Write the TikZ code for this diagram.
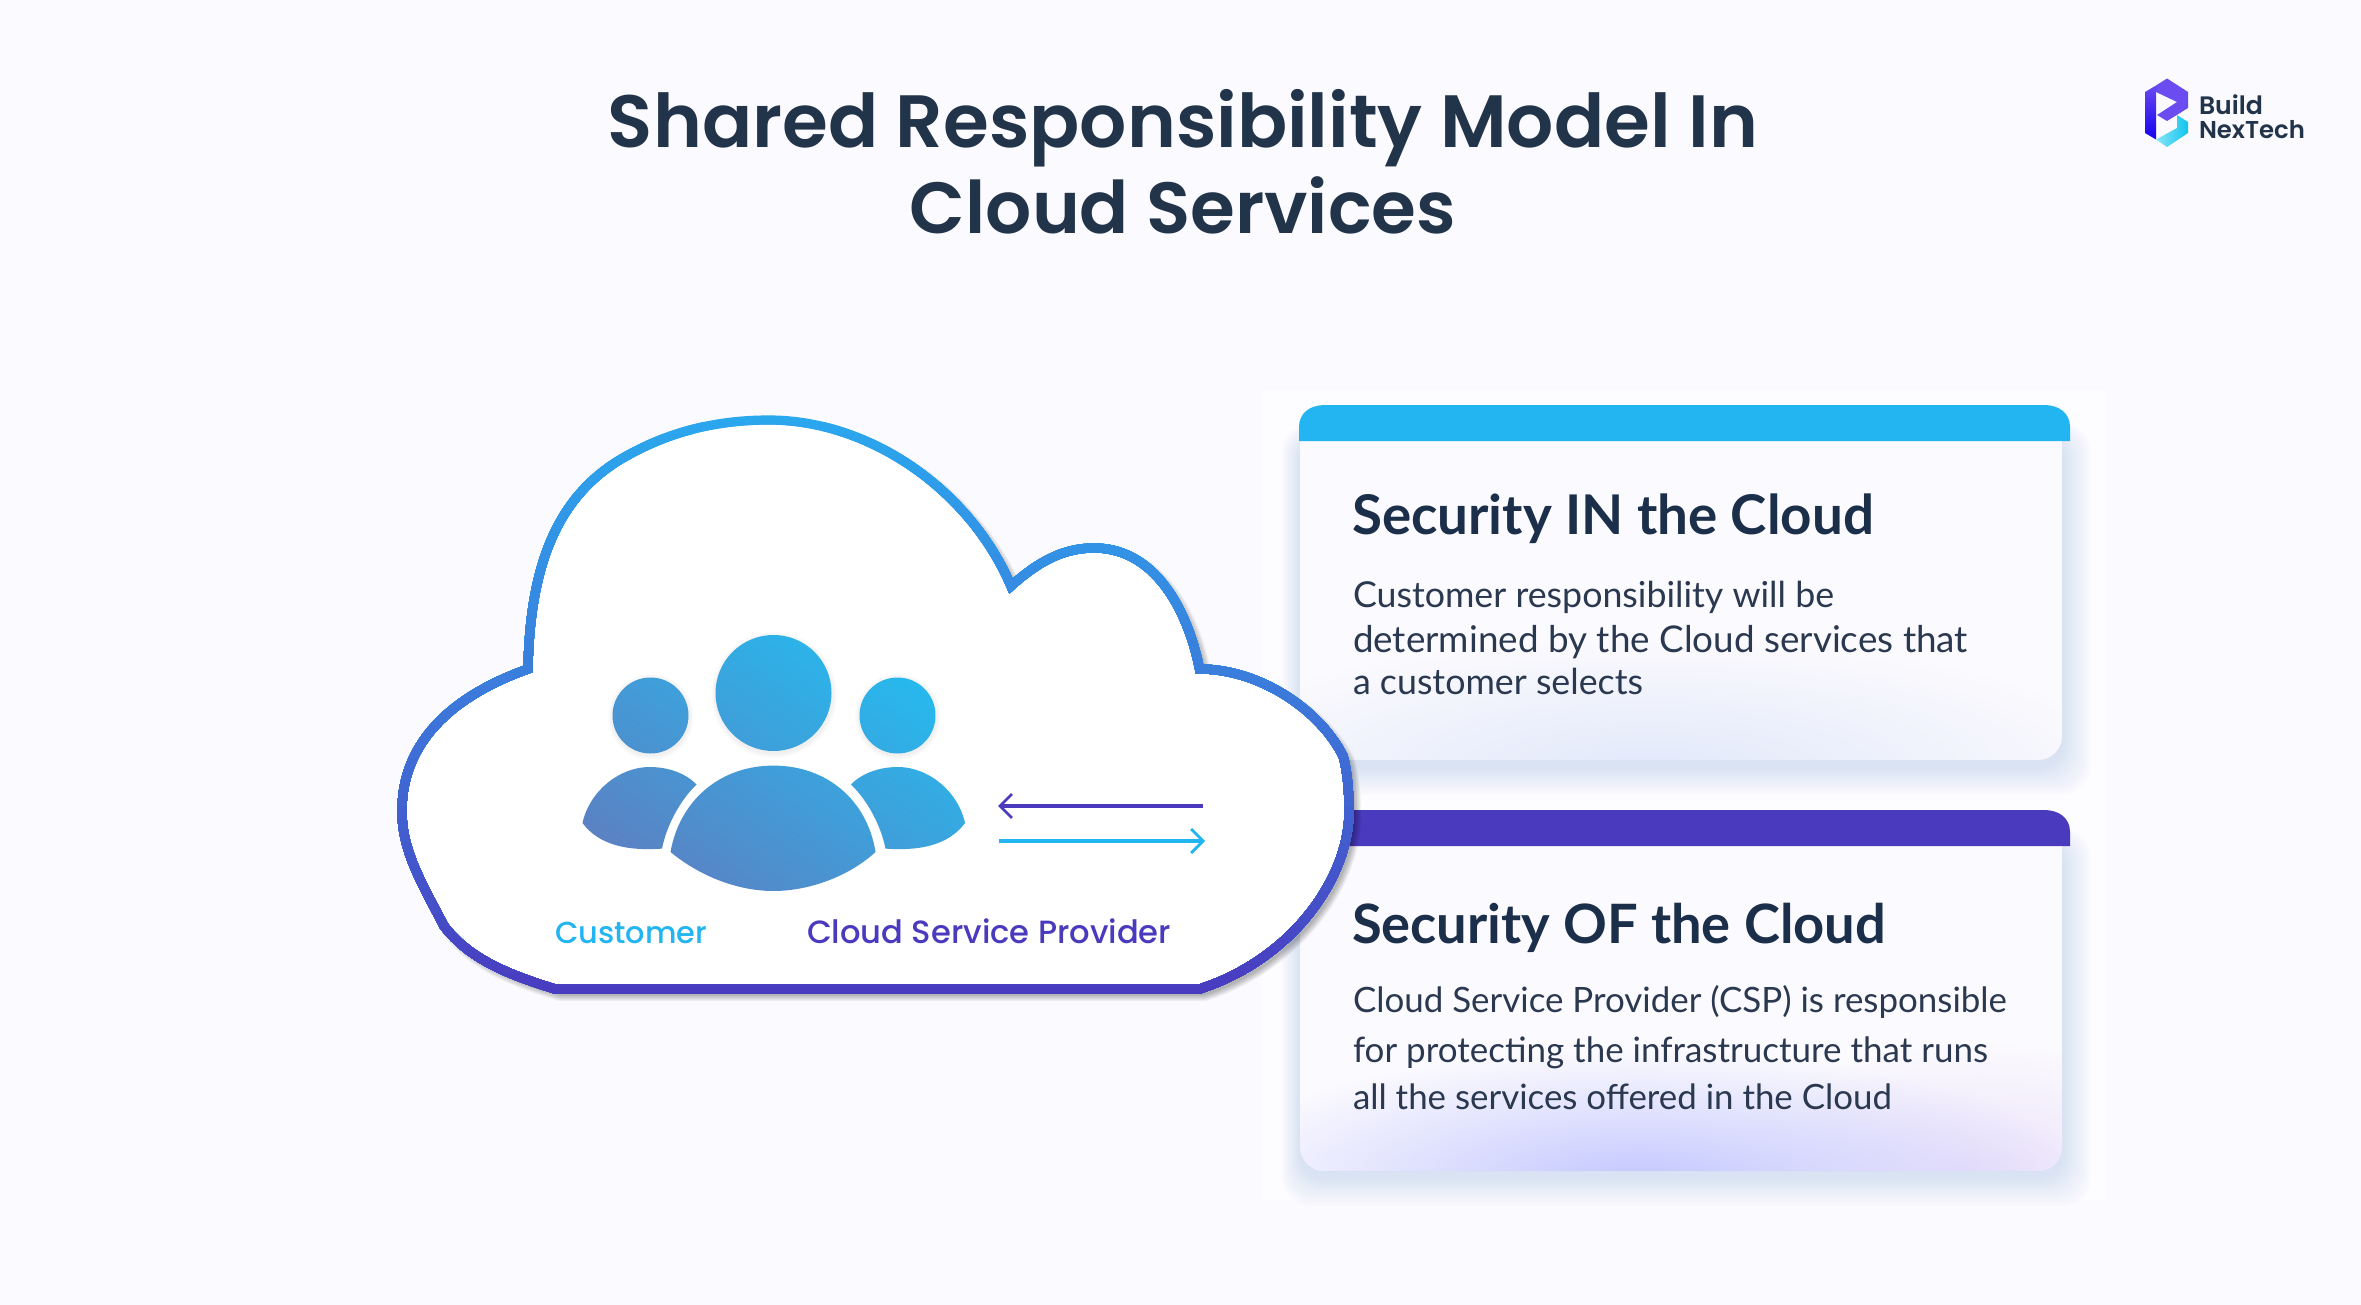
\documentclass[tikz,border=0pt]{standalone}
\usepackage{fontspec}
\usepackage{graphicx}
\usetikzlibrary{arrows.meta,fadings}
\setmainfont{Lato}
\newfontfamily\pop{Poppins}[UprightFont=* Medium,BoldFont=* SemiBold]
\definecolor{bgc}{HTML}{FBFAFE}
\definecolor{panelc}{HTML}{FDFDFF}
\definecolor{titlec}{HTML}{22344A}
\definecolor{headc}{HTML}{1B2F4B}
\definecolor{bodyc}{HTML}{2A3850}
\definecolor{skyc}{HTML}{22B5F2}
\definecolor{violc}{HTML}{4A3ABD}
\definecolor{cloudtop}{HTML}{2AA8EE}
\definecolor{cloudmid}{HTML}{3C78DA}
\definecolor{cloudbot}{HTML}{4A3CC0}
\definecolor{iconlow}{HTML}{6478BC}
\definecolor{iconhigh}{HTML}{1CC4F6}
\definecolor{logoa}{HTML}{6A48F0}
\definecolor{logob}{HTML}{1400F0}
\definecolor{logoc}{HTML}{6A4CF0}
\definecolor{logod}{HTML}{8AE6F6}
\definecolor{logoe}{HTML}{10C4F0}
\definecolor{glowa}{HTML}{E2E9FB}
\definecolor{glowb}{HTML}{C4C8FF}
\definecolor{glowc}{HTML}{ECE2FB}
\definecolor{shadc}{HTML}{5078D0}
\tikzfading[name=softglow,inner color=transparent!0,outer color=transparent!100]
\newcommand{\fitw}[2]{\resizebox{0.5\dimexpr#1pt\relax}{!}{#2}}
\tikzset{
  txt/.style={anchor=base west,inner sep=0pt,outer sep=0pt},
  main title/.style={inner sep=0pt,outer sep=0pt,anchor=base,text=titlec,font=\pop\bfseries\fontsize{40}{48}\selectfont},
  card head/.style={txt,text=headc,font=\bfseries\fontsize{27}{30}\selectfont},
  card body/.style={txt,text=bodyc,font=\fontsize{20}{24}\selectfont},
  cloud label/.style={txt,font=\pop\fontsize{17}{20}\selectfont},
  logo text/.style={txt,text=titlec,font=\pop\bfseries\fontsize{13}{15}\selectfont},
  arrow line/.style={line width=1.6pt,-{Straight Barb[length=6pt,width=12pt,line width=1.4pt]}},
}
\def\cloudpath{(528,669) .. controls (530,560) and (560,490) .. (632,453)
 .. controls (675,430) and (720,420) .. (769,420)
 .. controls (870,420) and (970,490) .. (1011,586)
 .. controls (1040,560) and (1065,548) .. (1094,548)
 .. controls (1160,548) and (1190,620) .. (1199.5,669)
 .. controls (1260,669) and (1320,710) .. (1343,756)
 .. controls (1347,770) and (1349,790) .. (1349,811)
 .. controls (1349,880) and (1290,960) .. (1199.5,989)
 -- (555,989)
 .. controls (510,975) and (470,960) .. (444,926)
 .. controls (420,880) and (402,850) .. (402,811)
 .. controls (402,740) and (455,695) .. (528,669) -- cycle}
\begin{document}
\begin{tikzpicture}[x=0.5pt,y=-0.5pt]
\useasboundingbox (0,0) rectangle (2361,1305);
\fill[bgc] (0,0) rectangle (2361,1305);
\fill[panelc] (1262,390) rectangle (2106,1200);
% card shadows
\foreach \yy/\yb in {430/760,835/1171}{
  \foreach \g in {1,...,12}{
    \fill[shadc,opacity=.016,rounded corners=14pt]
      (1300-\g*1.5,\yy+6-\g) rectangle (2062+\g*2.4,\yb+6+\g*2.4);
  }
}
% card glows
\begin{scope}
  \clip[rounded corners=12pt] (1300,420) rectangle (2062,760);
  \fill[bgc] (1300,420) rectangle (2062,760);
  \fill[glowa,path fading=softglow] (1650,770) ellipse (480 and 130);
\end{scope}
\begin{scope}
  \clip[rounded corners=12pt] (1300,825) rectangle (2062,1171);
  \fill[bgc] (1300,825) rectangle (2062,1171);
  \fill[glowc,path fading=softglow] (1980,1175) ellipse (260 and 130);
  \fill[glowb,path fading=softglow] (1640,1180) ellipse (440 and 130);
\end{scope}
% card headers
\fill[skyc] (1299,441) -- (1299,427) .. controls (1299,413) and (1310,405) .. (1325,405) -- (2044,405)
  .. controls (2059,405) and (2070,413) .. (2070,427) -- (2070,441) -- cycle;
\fill[violc] (1299,846) -- (1299,832) .. controls (1299,818) and (1310,810) .. (1325,810) -- (2044,810)
  .. controls (2059,810) and (2070,818) .. (2070,832) -- (2070,846) -- cycle;
% title
\node[main title] (title1) at (1183,148) {\fitw{1150}{Shared Responsibility Model In}};
\node[main title] (title2) at (1183,234) {\fitw{546}{Cloud Services}};
% card text
\node[card head] (c1h) at (1352,534) {\fitw{522}{Security IN the Cloud}};
\node[card body] (c1a) at (1353,607.6) {\fitw{481}{Customer responsibility will be}};
\node[card body] (c1b) at (1353,652) {\fitw{615}{determined by the Cloud services that}};
\node[card body] (c1c) at (1353,694) {\fitw{290}{a customer selects}};
\node[card head] (c2h) at (1352,943.5) {\fitw{534}{Security OF the Cloud}};
\node[card body] (c2a) at (1353,1012.5) {\fitw{654}{Cloud Service Provider (CSP) is responsible}};
\node[card body] (c2b) at (1353,1062) {\fitw{635}{for protecting the infrastructure that runs}};
\node[card body] (c2c) at (1353,1109) {\fitw{539}{all the services offered in the Cloud}};
% cloud shadow
\foreach \g in {1,...,8}{
  \draw[black,opacity=.04,line width={\g*0.9pt},line join=round] [shift={(5,5)}] \cloudpath;
}
\fill[white] \cloudpath;
% gradient stroke
\foreach \i in {0,...,48}{
  \pgfmathtruncatemacro{\py}{410+\i*12}
  \ifnum\i<24
    \pgfmathtruncatemacro{\pc}{100-\i*100/24}
    \colorlet{strokec}{cloudtop!\pc!cloudmid}
  \else
    \pgfmathtruncatemacro{\pc}{100-(\i-24)*100/24}
    \colorlet{strokec}{cloudmid!\pc!cloudbot}
  \fi
  \begin{scope}
    \clip (380,\py) rectangle (1370,1010);
    \draw[strokec,line width=4.6pt,miter limit=10] \cloudpath;
  \end{scope}
}
% people icon shadow
\foreach \g in {1,...,5}{
  \fill[black,opacity=.012] (774,695) circle ({58+\g});
  \fill[black,opacity=.012] (651,717) circle ({38+\g});
  \fill[black,opacity=.012] (898,717) circle ({38+\g});
}
% people icon
\begin{scope}[shift={(-0.5,1)}]
  \clip (774,692) circle (58)
        (651,714.5) circle (38)
        (898,714.5) circle (38)
        (671,851) .. controls (680,800) and (720,764.6) .. (774,764.6)
          .. controls (828,764.6) and (868,800) .. (876,851)
          .. controls (850,875) and (810,890) .. (774,890)
          .. controls (738,890) and (700,875) .. (671,851) -- cycle
        (583,822) .. controls (590,790) and (620,766) .. (650,766)
          .. controls (670,766) and (687,773) .. (697,783.5)
          .. controls (680,800) and (667,825) .. (662.5,847.6)
          .. controls (630,850) and (600,845) .. (583,822) -- cycle
        (965.5,822) .. controls (958.5,790) and (928.5,766) .. (898.5,766)
          .. controls (878.5,766) and (861.5,773) .. (851.5,783.5)
          .. controls (868.5,800) and (881.5,825) .. (886,847.6)
          .. controls (918.5,850) and (948.5,845) .. (965.5,822) -- cycle;
  \shade[bottom color=iconlow,top color=iconhigh,shading angle=-35] (520,580) rectangle (1030,950);
\end{scope}
% arrows
\coordinate (a1s) at (1203,806);
\coordinate (a1e) at (998,806);
\coordinate (a2s) at (999,841);
\coordinate (a2e) at (1205,841);
\draw[arrow line,violc] (a1s) -- (a1e);
\draw[arrow line,skyc] (a2s) -- (a2e);
% cloud labels
\node[cloud label,text=skyc] (lab1) at (555,943) {\fitw{152}{Customer}};
\node[cloud label,text=violc] (lab2) at (807,943) {\fitw{364}{Cloud Service Provider}};
% logo
\shade[top color=logoa,bottom color=logob] (2145,92) -- (2156,85.5) -- (2156,139.5) -- (2145,133) -- cycle;
\fill[logoc] (2156,85.5) -- (2167,78.5) -- (2188,92) -- (2188,108) -- (2167,121) -- (2157,115) -- (2177,102) -- (2156,92) -- cycle;
\shade[left color=logod,right color=logoe] (2177,115) -- (2188,122) -- (2188,133) -- (2167,147) -- (2156,139.5) -- (2177,128) -- cycle;
\node[logo text] (logo1) at (2199,114.5) {\fitw{64}{Build}};
\node[logo text] (logo2) at (2199,138.5) {\fitw{106}{NexTech}};
\end{tikzpicture}
\end{document}
